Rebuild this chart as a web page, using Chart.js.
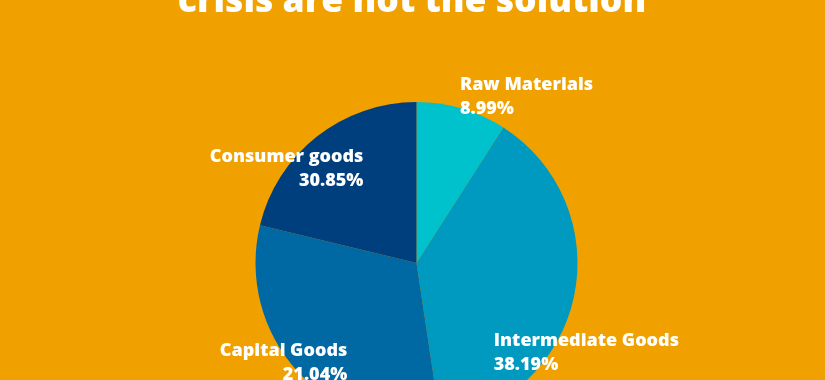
<!DOCTYPE html>
<html>
<head>
<meta charset="utf-8">
<script src="https://cdn.jsdelivr.net/npm/chart.js@4"></script>
<style>
  html, body { margin: 0; padding: 0; background: #f0a100; overflow: hidden; }
  #wrap { width: 825px; height: 380px; overflow: hidden; }
</style>
</head>
<body>
<div id="wrap"><canvas id="pieChart" width="825" height="430"></canvas></div>
<script>
const titleLine = 'crisis are not the solution';
const categories = ['Raw Materials', 'Intermediate Goods', 'Capital Goods', 'Consumer goods'];
// slice sizes as drawn in the picture
const sliceValues = [8.99, 38.19, 30.85, 21.04];
// percentages as printed next to each slice
const printedShares = ['8.99%', '38.19%', '21.04%', '30.85%'];
const sliceColors = ['#00c2cc', '#0099bf', '#0069a3', '#003f7e'];

// label anchor per slice: offset from pie centre in radii, and text alignment
const labelSpots = [
  { dx: 0.27, dy: -1.075, align: 'left' },
  { dx: 0.48, dy: 0.515, align: 'left' },
  { dx: -0.43, dy: 0.58, align: 'right' },
  { dx: -0.33, dy: -0.63, align: 'right' }
];

const textPlugin = {
  id: 'textPlugin',
  afterDatasetsDraw(chart) {
    const c = chart.ctx;
    const arcs = chart.getDatasetMeta(0).data;
    c.save();
    c.fillStyle = '#ffffff';
    c.textBaseline = 'alphabetic';

    c.font = '800 35.5px "Open Sans"';
    c.textAlign = 'center';
    c.fillText(titleLine, 412, 12);

    c.font = '800 18px "Open Sans"';
    arcs.forEach((arc, i) => {
      const s = labelSpots[i];
      const x = arc.x + s.dx * arc.outerRadius;
      const y = arc.y + s.dy * arc.outerRadius;
      c.textAlign = s.align;
      c.fillText(categories[i], x, y);
      c.fillText(printedShares[i], x, y + 24);
    });
    c.restore();
  }
};

new Chart(document.getElementById('pieChart').getContext('2d'), {
  type: 'pie',
  data: {
    labels: categories,
    datasets: [{
      data: sliceValues,
      backgroundColor: sliceColors,
      borderWidth: 0
    }]
  },
  options: {
    responsive: false,
    animation: false,
    layout: { padding: { top: 102, bottom: 6, left: 8, right: 0 } },
    plugins: {
      legend: { display: false },
      tooltip: { enabled: false },
      title: { display: false }
    }
  },
  plugins: [textPlugin]
});
</script>
</body>
</html>
